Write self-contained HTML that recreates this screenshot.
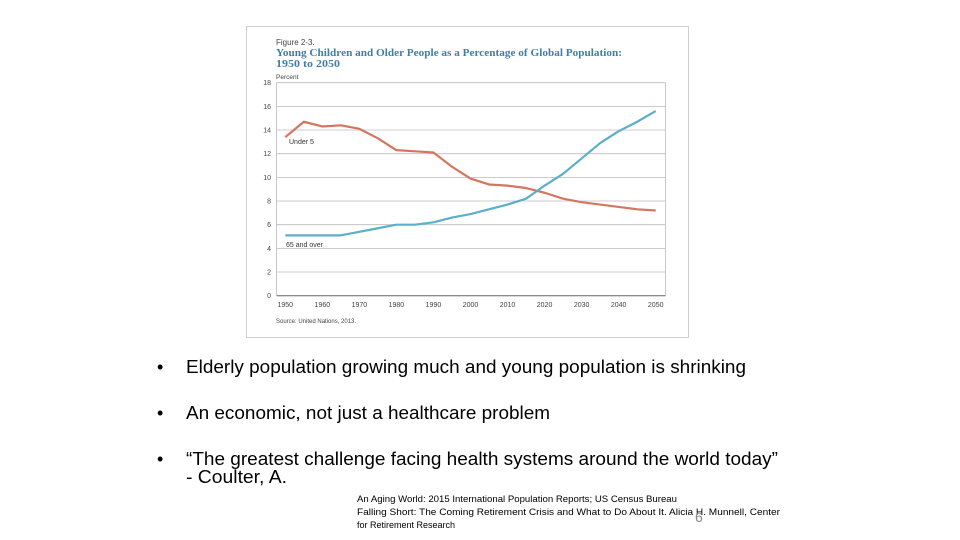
<!DOCTYPE html>
<html><head><meta charset="utf-8"><style>
body{margin:0;background:#fff;width:960px;height:540px;overflow:hidden;font-family:"Liberation Sans",Arial,sans-serif}
svg{display:block}
</style></head><body>
<svg width="960" height="540" viewBox="0 0 960 540">
<rect x="246.5" y="26.5" width="442" height="311" fill="#fff" stroke="#cfcfcf"/>
<text x="276" y="45" font-size="8" fill="#444">Figure 2-3.</text>
<text x="276" y="56" font-size="10" font-weight="bold" fill="#3f7fa6" font-family="Liberation Serif, serif" textLength="346" lengthAdjust="spacingAndGlyphs">Young Children and Older People as a Percentage of Global Population:</text>
<text x="276" y="67" font-size="10" font-weight="bold" fill="#3f7fa6" font-family="Liberation Serif, serif" textLength="64" lengthAdjust="spacingAndGlyphs">1950 to 2050</text>
<text x="276" y="79" font-size="6.5" fill="#444">Percent</text>
<g id="grid"></g>
<g id="ticks"></g>
<g id="lines"></g>
<text x="289" y="144" font-size="7" fill="#333">Under 5</text>
<text x="286" y="247" font-size="7" fill="#333">65 and over</text>
<text x="276" y="323" font-size="6" fill="#444">Source: United Nations, 2013.</text>

<g font-size="18" fill="#000">
<text x="157" y="373">•</text>
<text x="186" y="373" textLength="560" lengthAdjust="spacingAndGlyphs">Elderly population growing much and young population is shrinking</text>
<text x="157" y="419">•</text>
<text x="186" y="419" textLength="364" lengthAdjust="spacingAndGlyphs">An economic, not just a healthcare problem</text>
<text x="157" y="465">•</text>
<text x="186" y="465" textLength="592" lengthAdjust="spacingAndGlyphs">“The greatest challenge facing health systems around the world today”</text>
<text x="186" y="483" textLength="101" lengthAdjust="spacingAndGlyphs">- Coulter, A.</text>
</g>
<g font-size="9" fill="#000">
<text x="357" y="502" textLength="320" lengthAdjust="spacingAndGlyphs">An Aging World: 2015 International Population Reports; US Census Bureau</text>
<text x="357" y="515" textLength="423" lengthAdjust="spacingAndGlyphs">Falling Short: The Coming Retirement Crisis  and What to Do About It. Alicia H. Munnell, Center</text>
<text x="357" y="528">for Retirement Research</text>
</g>
<text x="695" y="522" font-size="14" fill="#888">6</text>
</svg>
<script>
const years=[1950,1955,1960,1965,1970,1975,1980,1985,1990,1995,2000,2005,2010,2015,2020,2025,2030,2035,2040,2045,2050];
const under5=[13.4,14.7,14.3,14.4,14.1,13.3,12.3,12.2,12.1,10.9,9.9,9.4,9.3,9.1,8.7,8.2,7.9,7.7,7.5,7.3,7.2];
const over65=[5.1,5.1,5.1,5.1,5.4,5.7,6.0,6.0,6.2,6.6,6.9,7.3,7.7,8.2,9.3,10.3,11.6,12.9,13.9,14.7,15.6];
const yTicks=[0,2,4,6,8,10,12,14,16,18];
const xTicks=[1950,1960,1970,1980,1990,2000,2010,2020,2030,2040,2050];
const NS="http://www.w3.org/2000/svg";
const x=v=>285.3+(v-1950)/100*370.4;
const y=v=>295.7-v/18*213;
const grid=document.getElementById('grid'),ticks=document.getElementById('ticks'),lines=document.getElementById('lines');
function mk(t,a,p){const e=document.createElementNS(NS,t);for(const k in a)e.setAttribute(k,a[k]);p.appendChild(e);return e;}
yTicks.forEach(v=>{
 const l=mk('line',{x1:276.5,x2:665.5,y1:y(v),y2:y(v),stroke:v===0?'#666':'#bbb','stroke-width':v===0?1:0.8},grid);
 
 
 const t=mk('text',{x:271,y:y(v)+2.5,'font-size':7,'text-anchor':'end',fill:'#444'},ticks);t.textContent=v;
 
 
});
mk('line',{x1:276.5,x2:276.5,y1:y(18),y2:y(0),stroke:'#bbb','stroke-width':0.8},grid);
mk('line',{x1:665.5,x2:665.5,y1:y(18),y2:y(0),stroke:'#bbb','stroke-width':0.8},grid);
xTicks.forEach(v=>{
 const t=mk('text',{x:x(v),y:307,'font-size':7,'text-anchor':'middle',fill:'#444'},ticks);t.textContent=v;
 
 
});
function draw(vals,color,name){
 const p=mk('polyline',{points:vals.map((v,i)=>x(years[i])+','+y(v)).join(' '),fill:'none',stroke:color,'stroke-width':2.2,'stroke-linejoin':'round'},lines);
 
 
}
draw(under5,'#d6755f','line-under-5');
draw(over65,'#5aafc9','line-65-and-over');
</script>
</body></html>
